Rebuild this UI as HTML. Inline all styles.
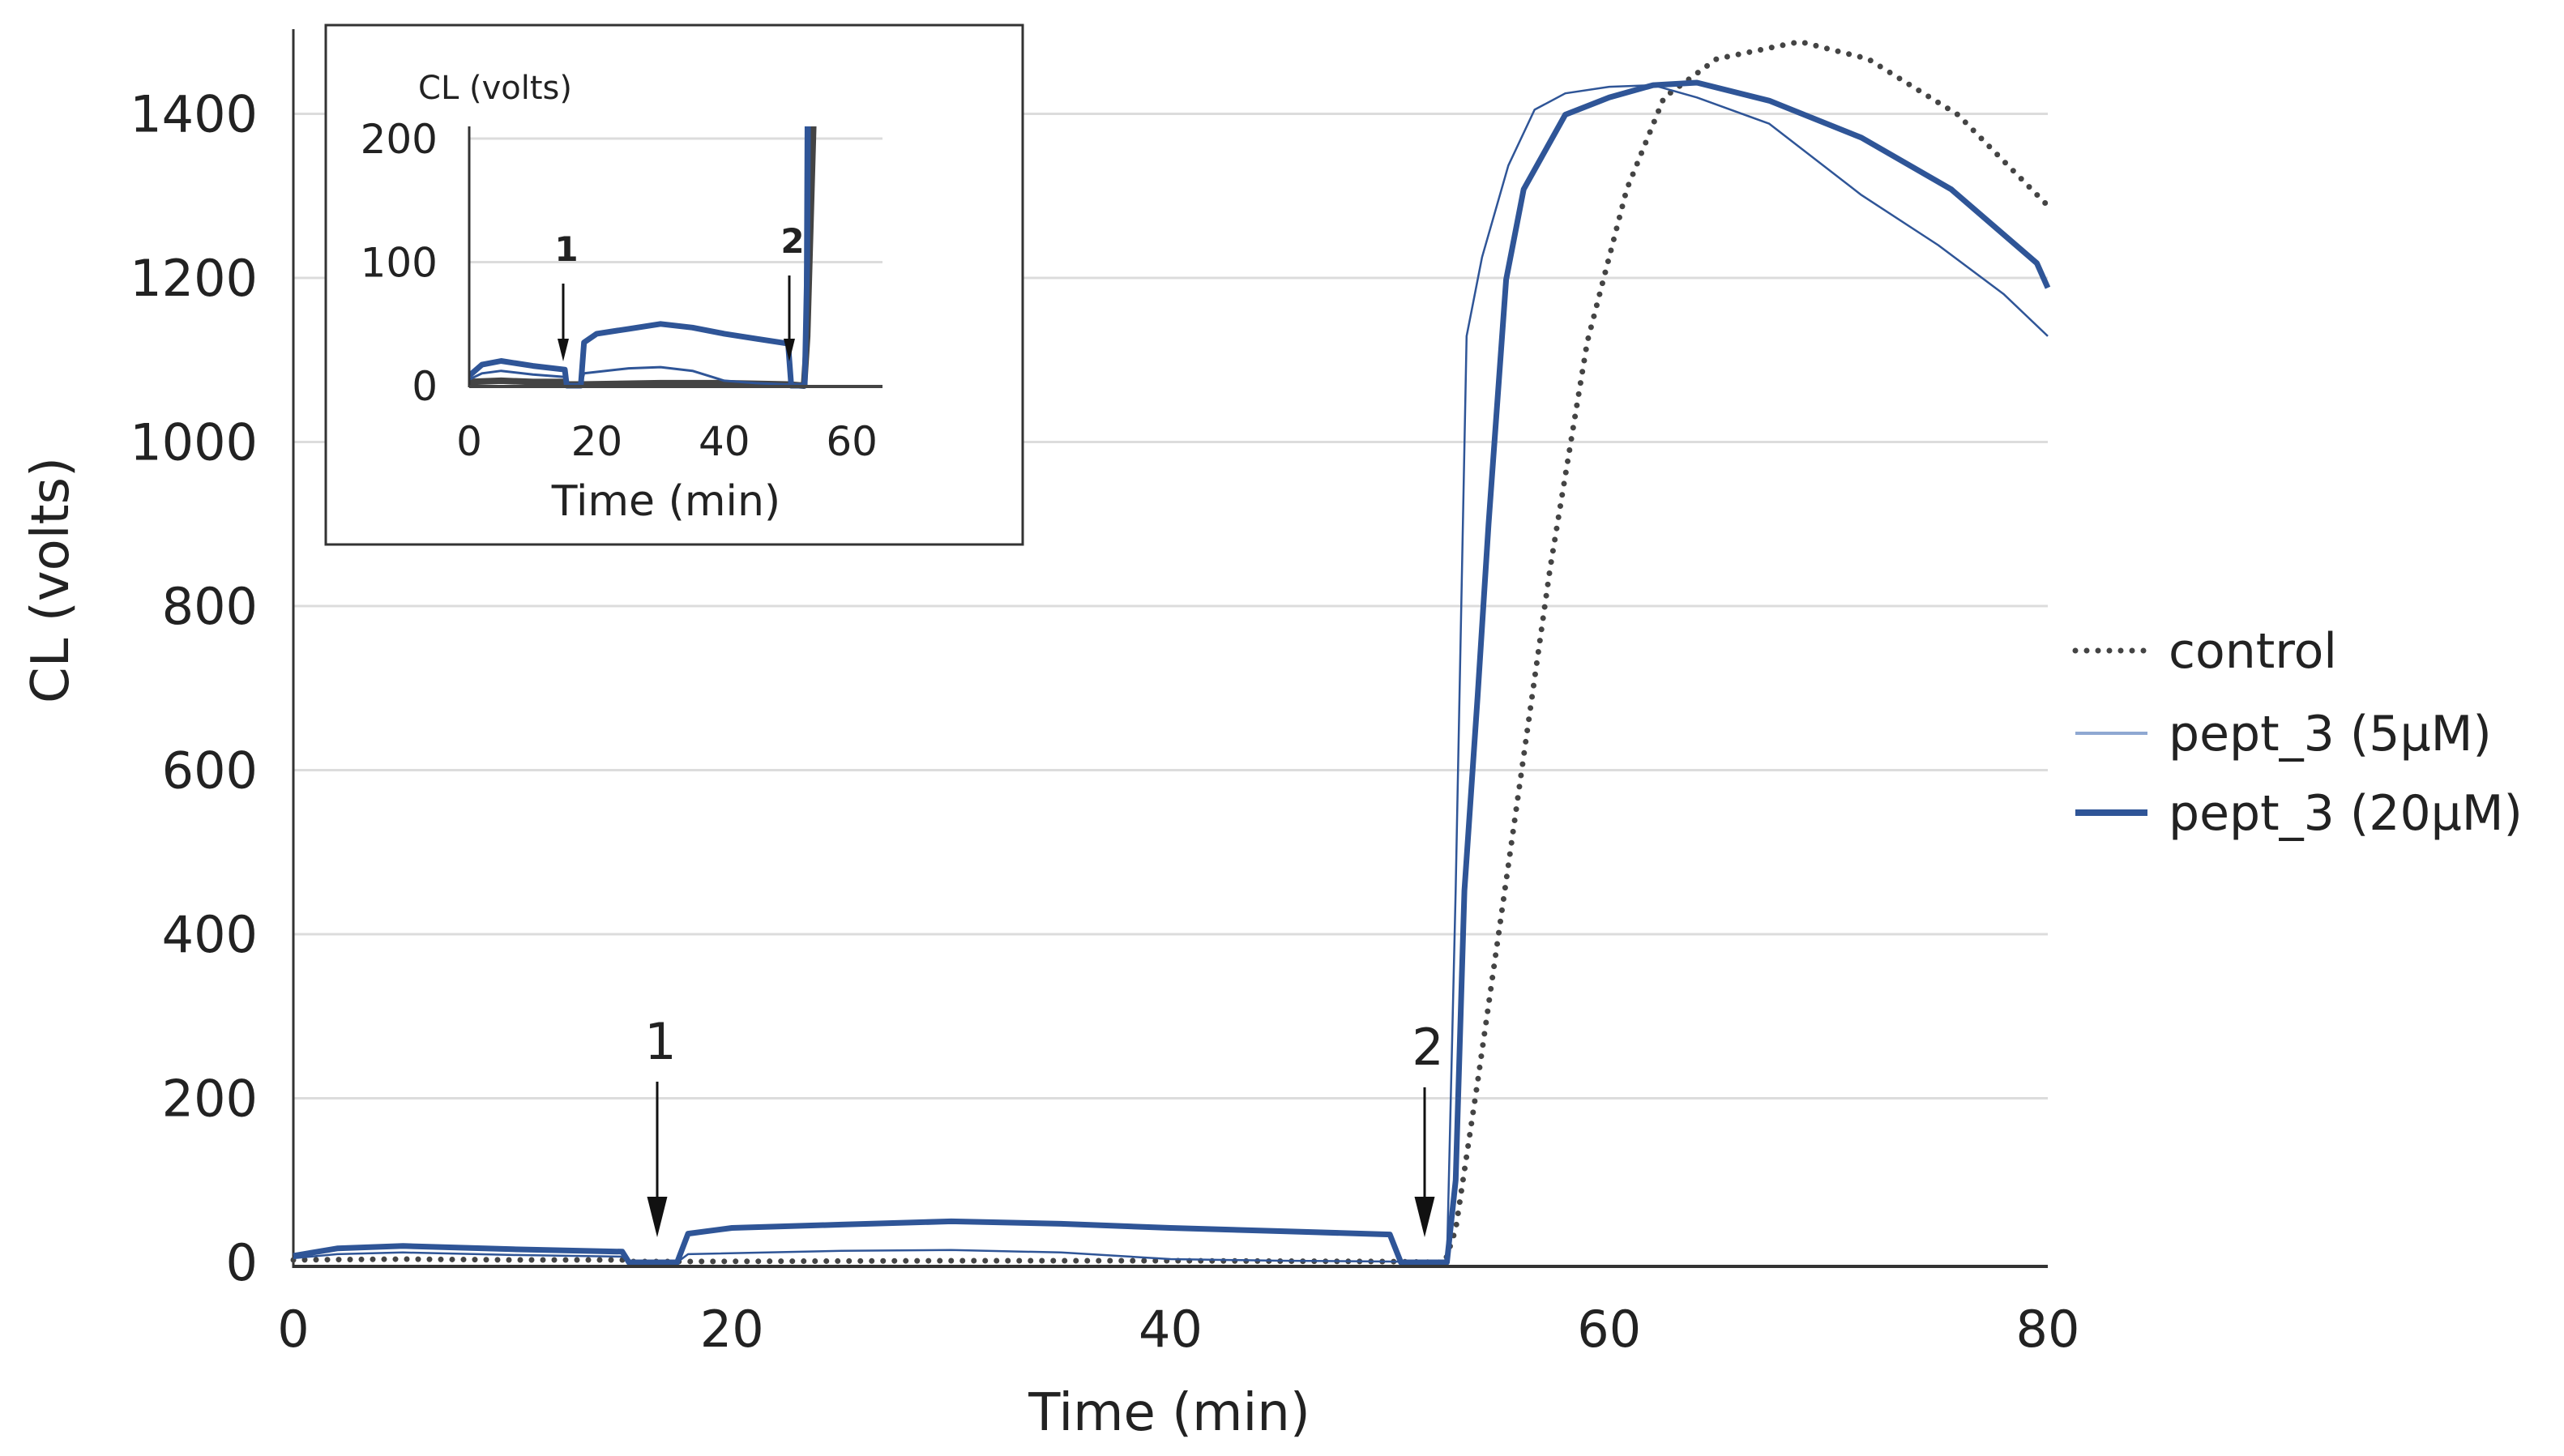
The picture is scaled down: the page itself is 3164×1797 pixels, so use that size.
<!DOCTYPE html>
<html><head><meta charset="utf-8">
<style>
html,body{margin:0;padding:0;background:#fff;}
svg{display:block;font-family:"DejaVu Sans","Liberation Sans",sans-serif;}
</style></head>
<body>
<svg id="chart" width="3164" height="1797" viewBox="0 0 3164 1797" xmlns="http://www.w3.org/2000/svg">
<g id="main"></g>
<g id="inset"></g>
<g id="legend"></g>
</svg>
<script>
const xTicks = [0, 20, 40, 60, 80];
const yTicks = [0, 200, 400, 600, 800, 1000, 1200, 1400];
const insetXTicks = [0, 20, 40, 60];
const insetYTicks = [0, 100, 200];
const controlT = [0, 5, 10, 15, 15.3, 17.5, 30, 40, 50, 52.5, 53, 54, 55.3, 57.3, 59, 60.8, 62.5, 64.9, 68.7, 71.8, 75.9, 80];
const controlV = [3, 4, 3, 3, 1, 1, 2, 2, 1, 0, 40, 220, 465, 845, 1122, 1308, 1420, 1467, 1488, 1467, 1399, 1288];
const p5T = [0, 2, 5, 10, 15, 15.3, 17.5, 18, 25, 30, 35, 40, 45, 50, 52.6, 53, 53.5, 54.2, 55.4, 56.6, 58, 60, 62, 64, 67.3, 71.5, 75, 78, 80];
const p5V = [5, 10, 12, 9, 7, 0, 0, 10, 14, 15, 12, 4, 2, 1, 0, 453, 1129, 1225, 1337, 1405, 1425, 1433, 1435, 1420, 1388, 1301, 1240, 1180, 1129];
const p20T = [0, 2, 5, 10, 15, 15.3, 17.5, 18, 20, 25, 30, 35, 40, 45, 50, 50.5, 52.6, 53, 53.4, 54, 54.5, 55.3, 56.1, 58, 60, 62, 64, 67.3, 71.5, 75.6, 79.5, 80];
const p20V = [8, 17, 20, 16, 13, 0, 0, 35, 42, 46, 50, 47, 42, 38, 34, 0, 0, 100, 453, 690, 900, 1198, 1308, 1399, 1420, 1435, 1438, 1416, 1371, 1308, 1218, 1188];
const legendLabels = ["control", "pept_3 (5µM)", "pept_3 (20µM)"];

const NS = "http://www.w3.org/2000/svg";
function mk(tag, attrs, parent){ const e=document.createElementNS(NS,tag); for(const k in attrs) e.setAttribute(k,attrs[k]); parent.appendChild(e); return e; }
const BLUE="#2f5597", DARK="#444";

const X0=362, X1=2527, Y0=1558, YS=1.0125;
const mx = t => X0 + (t/80)*(X1-X0);
const my = v => Y0 - v*YS;
const main=document.getElementById('main');
yTicks.forEach(v=>{
  if(v>0){ const g=mk('line',{x1:X0,x2:X1,y1:my(v),y2:my(v),stroke:'#dcdcdc','stroke-width':3},main);
  
   }
  const t=mk('text',{x:318,y:my(v)+22,'text-anchor':'end','font-size':62,fill:'#222'},main); t.textContent=v;
  
  
});
xTicks.forEach(v=>{
  const t=mk('text',{x:mx(v),y:1662,'text-anchor':'middle','font-size':62,fill:'#222'},main); t.textContent=v;
  
  
});
const ya=mk('line',{x1:X0,x2:X0,y1:36,y2:1565,stroke:'#333','stroke-width':3},main);


const xt=mk('text',{x:1443,y:1765,'text-anchor':'middle','font-size':64,fill:'#222'},main); xt.textContent="Time (min)";


const yt=mk('text',{x:0,y:0,'text-anchor':'middle','font-size':64,fill:'#222',transform:'translate(84,716) rotate(-90)'},main); yt.textContent="CL (volts)";



function series(parent,T,V,fx,fy,attrs,name){
  const pts=T.map((t,i)=>fx(t).toFixed(1)+','+fy(V[i]).toFixed(1)).join(' ');
  const p=mk('polyline',Object.assign({points:pts,fill:'none','stroke-linejoin':'round'},attrs),parent);
  
  
  return p;
}
series(main,controlT,controlV,mx,my,{stroke:DARK,'stroke-width':7,'stroke-dasharray':'0 14','stroke-linecap':'round'},'control-line');
series(main,p5T,p5V,mx,my,{stroke:BLUE,'stroke-width':2.5},'pept3-5um-line');
series(main,p20T,p20V,mx,my,{stroke:BLUE,'stroke-width':7},'pept3-20um-line');
const xa=mk('line',{x1:X0,x2:X1,y1:1563,y2:1563,stroke:'#333','stroke-width':4},main);



function arrow(parent,x,y1,y2,label,fs,ah,name,bold){
  const g=mk('g',{},parent);
  
  
  mk('line',{x1:x,x2:x,y1:y1,y2:y2-ah,stroke:'#111','stroke-width':3},g);
  mk('polygon',{points:`${x-ah*0.25},${y2-ah} ${x+ah*0.25},${y2-ah} ${x},${y2}`,fill:'#111'},g);
  const t=mk('text',{x:x+4,y:y1-28,'text-anchor':'middle','font-size':fs,fill:'#222','font-weight':bold?'bold':'normal'},g); t.textContent=label;
}
arrow(main,811,1335,1527,"1",62,50,'arrow-1',false);
arrow(main,1758,1342,1527,"2",62,50,'arrow-2',false);

const inset=document.getElementById('inset');
const box=mk('rect',{x:402,y:31,width:860,height:641,fill:'#fff',stroke:'#333','stroke-width':3},inset);


const IX0=579, IXS=7.87, IY0=476, IYS=1.525;
const ix=t=>IX0+t*IXS, iy=v=>IY0-v*IYS;
insetYTicks.forEach(v=>{
  if(v>0){ const g=mk('line',{x1:IX0,x2:1089,y1:iy(v),y2:iy(v),stroke:'#dcdcdc','stroke-width':3},inset);
  
   }
  const t=mk('text',{x:540,y:iy(v)+18,'text-anchor':'end','font-size':50,fill:'#222'},inset); t.textContent=v;
  
  
});
insetXTicks.forEach(v=>{
  const t=mk('text',{x:ix(v),y:562,'text-anchor':'middle','font-size':50,fill:'#222'},inset); t.textContent=v;
  
  
});
const it=mk('text',{x:822,y:636,'text-anchor':'middle','font-size':52,fill:'#222'},inset); it.textContent="Time (min)";


const iyt=mk('text',{x:611,y:122,'text-anchor':'middle','font-size':40,fill:'#222'},inset); iyt.textContent="CL (volts)";


const cp=mk('clipPath',{id:'ic'},inset);
mk('rect',{x:IX0,y:156,width:520,height:330},cp);
const ig=mk('g',{'clip-path':'url(#ic)'},inset);
series(ig,controlT,controlV,ix,iy,{stroke:DARK,'stroke-width':8},'inset-control-line');
series(ig,p5T,p5V,ix,iy,{stroke:BLUE,'stroke-width':3},'inset-pept3-5um-line');
series(ig,p20T,p20V,ix,iy,{stroke:BLUE,'stroke-width':7},'inset-pept3-20um-line');
const iya=mk('line',{x1:IX0,x2:IX0,y1:156,y2:478,stroke:'#333','stroke-width':3},inset);


const ixa=mk('line',{x1:IX0,x2:1089,y1:477,y2:477,stroke:'#444','stroke-width':4},inset);


arrow(inset,695,350,446,"1",42,28,'inset-arrow-1',true);
arrow(inset,974,340,446,"2",42,28,'inset-arrow-2',true);

const lg=document.getElementById('legend');
const rows=[803,905,1003];
const styles=[
 {stroke:DARK,'stroke-width':7,'stroke-dasharray':'0 14','stroke-linecap':'round'},
 {stroke:'#8fa8d2','stroke-width':4},
 {stroke:BLUE,'stroke-width':8}];
legendLabels.forEach((lab,i)=>{
  const g=mk('g',{},lg);
  
  
  mk('line',Object.assign({x1:2561,x2:2650,y1:rows[i],y2:rows[i]},styles[i]),g);
  const t=mk('text',{x:2676,y:rows[i]+21,'font-size':60,fill:'#222'},g); t.textContent=lab;
});
</script>
</body></html>
